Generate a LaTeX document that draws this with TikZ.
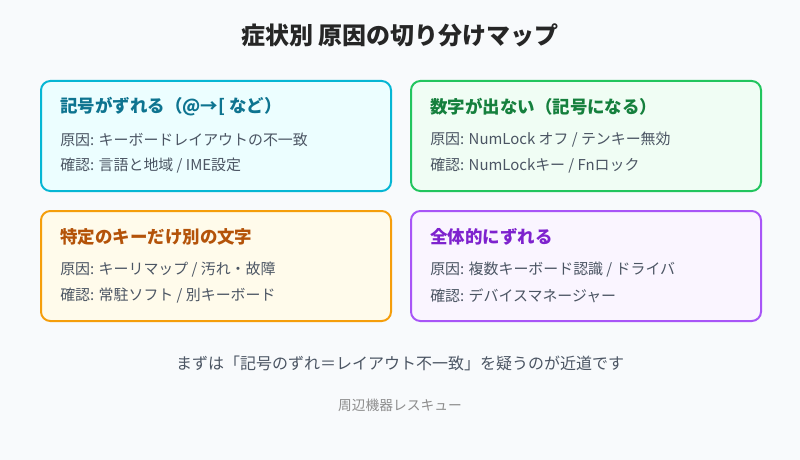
\documentclass[tikz,border=0pt]{standalone}
\usepackage{fontspec}
\setmainfont{Noto Sans CJK JP}
\begin{document}
\definecolor{bg}{HTML}{F8FAFC}
\definecolor{body}{HTML}{4B5563}
\definecolor{cB}{HTML}{06B6D4}\definecolor{cF}{HTML}{ECFEFF}\definecolor{cT}{HTML}{0E7490}
\definecolor{gB}{HTML}{22C55E}\definecolor{gF}{HTML}{F0FDF4}\definecolor{gT}{HTML}{15803D}
\definecolor{oB}{HTML}{F59E0B}\definecolor{oF}{HTML}{FFFBEB}\definecolor{oT}{HTML}{B45309}
\definecolor{pB}{HTML}{A855F7}\definecolor{pF}{HTML}{FAF5FF}\definecolor{pT}{HTML}{7E22CE}
\begin{tikzpicture}[x=0.75pt,y=-0.75pt,
  card/.style={draw=#1,line width=1.5pt,rounded corners=7pt,minimum width=262.5pt,minimum height=82.5pt,anchor=north west},
  head/.style={anchor=west,inner sep=0pt,font=\bfseries\fontsize{13.1}{15}\selectfont,text=#1},
  txt/.style={anchor=west,inner sep=0pt,font=\fontsize{11.2}{13}\selectfont,text=body}]
\fill[bg] (0,0) rectangle (800,460);
\useasboundingbox (0,0) rectangle (800,460);
\node[font=\bfseries\fontsize{18}{20}\selectfont,text=black!85] (title) at (400,35) {症状別 原因の切り分けマップ};
\node[card=cB,fill=cF] (c1) at (40,80) {};
\node[card=gB,fill=gF] (c2) at (410,80) {};
\node[card=oB,fill=oF] (c3) at (40,210) {};
\node[card=pB,fill=pF] (c4) at (410,210) {};
\node[head=cT] (h1) at (60,107) {記号がずれる（@→[ など）};
\node[txt] (a1) at (60,140) {原因: キーボードレイアウトの不一致};
\node[txt] (b1) at (60,166) {確認: 言語と地域 / IME設定};
\node[head=gT] (h2) at (430,107) {数字が出ない（記号になる）};
\node[txt] (a2) at (430,140) {原因: NumLock オフ / テンキー無効};
\node[txt] (b2) at (430,166) {確認: NumLockキー / Fnロック};
\node[head=oT] (h3) at (60,237) {特定のキーだけ別の文字};
\node[txt] (a3) at (60,270) {原因: キーリマップ / 汚れ・故障};
\node[txt] (b3) at (60,296) {確認: 常駐ソフト / 別キーボード};
\node[head=pT] (h4) at (430,237) {全体的にずれる};
\node[txt] (a4) at (430,270) {原因: 複数キーボード認識 / ドライバ};
\node[txt] (b4) at (430,296) {確認: デバイスマネージャー};
\node[font=\fontsize{12}{14}\selectfont,text=body] (foot) at (400,363) {まずは「記号のずれ＝レイアウト不一致」を疑うのが近道です};
\node[font=\fontsize{10.3}{12}\selectfont,text=black!45] (brand) at (400,405) {周辺機器レスキュー};
\end{tikzpicture}
\end{document}
